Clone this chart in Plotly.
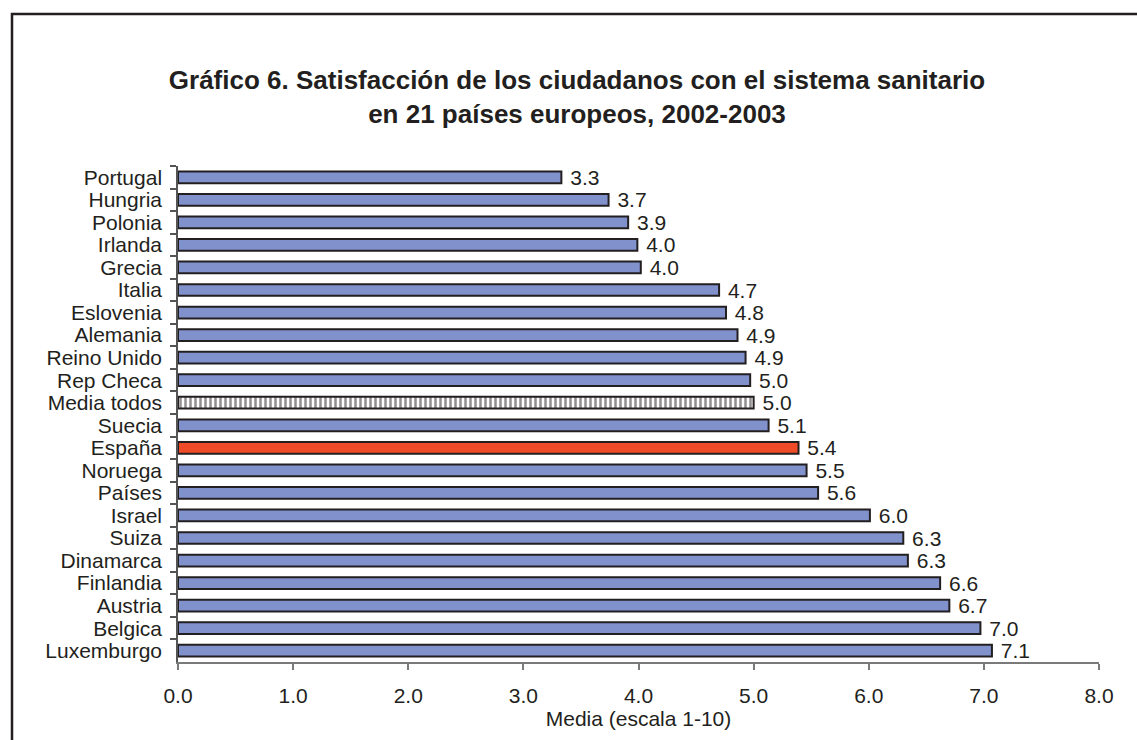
import plotly.graph_objects as go

countries = ["Portugal", "Hungria", "Polonia", "Irlanda", "Grecia", "Italia", "Eslovenia",
             "Alemania", "Reino Unido", "Rep Checa", "Media todos", "Suecia", "España",
             "Noruega", "Países", "Israel", "Suiza", "Dinamarca", "Finlandia", "Austria",
             "Belgica", "Luxemburgo"]
values = [3.33, 3.74, 3.91, 3.99, 4.02, 4.70, 4.76, 4.86, 4.93, 4.97, 5.00, 5.13, 5.39,
          5.46, 5.56, 6.01, 6.30, 6.34, 6.62, 6.70, 6.97, 7.07]
x_ticks = [0, 1, 2, 3, 4, 5, 6, 7, 8]
x_tick_labels = ["0.0", "1.0", "2.0", "3.0", "4.0", "5.0", "6.0", "7.0", "8.0"]

BLUE = "#8091CC"
RED = "#F04B28"
DARK = "#231F20"
FONT = "Liberation Sans, Arial, sans-serif"

avg_name = "Media todos"
c_main = [c for c in countries if c != avg_name]
v_main = [v for c, v in zip(countries, values) if c != avg_name]
c_avg = [c for c in countries if c == avg_name]
v_avg = [v for c, v in zip(countries, values) if c == avg_name]
colors = [RED if c == "España" else BLUE for c in c_main]

common = dict(orientation="h", texttemplate=" %{x:.1f}", textposition="outside",
              textfont=dict(family=FONT, size=21, color=DARK), cliponaxis=False,
              constraintext="none")

fig = go.Figure()
fig.add_trace(go.Bar(y=c_main, x=v_main,
                     marker=dict(color=colors, line=dict(color=DARK, width=2)), **common))
fig.add_trace(go.Bar(y=c_avg, x=v_avg,
                     marker=dict(color="white", line=dict(color=DARK, width=2),
                                 pattern=dict(shape="|", fgcolor=DARK, bgcolor="white",
                                              size=5, solidity=0.5, fillmode="overlay")),
                     **common))

# plot area in pixels: x 178..1099, y 166..662
L, R, T, B = 178, 1137 - 1099, 166, 740 - 662
W, H = 1137 - L - R, 740 - T - B

def px(xp):
    return (xp - L) / W

def py(yp):
    return (740 - B - yp) / H

fig.update_layout(
    width=1137, height=740,
    margin=dict(l=L, r=R, t=T, b=B),
    paper_bgcolor="white", plot_bgcolor="white",
    showlegend=False,
    barmode="overlay",
    bargap=0.48,
    font=dict(family=FONT, color=DARK, size=21),
    title=dict(
        text="<b>Gráfico 6. Satisfacción de los ciudadanos con el sistema sanitario<br>en 21 países europeos, 2002-2003</b>",
        x=577 / 1137, xanchor="center", y=1 - 89 / 740, yanchor="middle",
        font=dict(family=FONT, size=26, color=DARK),
    ),
    xaxis=dict(
        range=[0, 8], tickvals=x_ticks, ticktext=x_tick_labels,
        showgrid=False, zeroline=False,
        showline=True, linecolor="#7a7a7a", linewidth=1.5,
        ticks="outside", ticklen=6, tickcolor="#7a7a7a", tickwidth=1.5,
        ticklabelstandoff=8,
        tickfont=dict(family=FONT, size=21, color=DARK),
        title=dict(text="Media (escala 1-10)", font=dict(family=FONT, size=21, color=DARK),
                   standoff=5),
    ),
    yaxis=dict(
        categoryorder="array", categoryarray=countries,
        autorange="reversed", showgrid=False, zeroline=False,
        tickmode="linear", dtick=1,
        showline=True, linecolor="#555555", linewidth=1.5,
        ticks="outside", ticklen=6, tickcolor="#555555", tickwidth=1.5,
        tickson="boundaries", ticklabelstandoff=10,
        tickfont=dict(family=FONT, size=21, color=DARK),
    ),
    shapes=[dict(type="rect", xref="paper", yref="paper",
                 x0=px(12), x1=px(1160), y0=py(14), y1=py(770),
                 line=dict(color=DARK, width=2.5), fillcolor="rgba(0,0,0,0)", layer="above")],
)

fig.write_html("out.html")
